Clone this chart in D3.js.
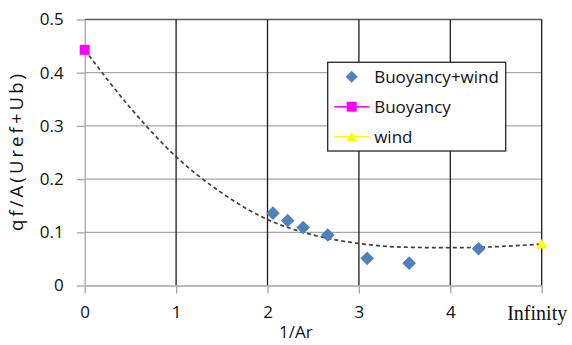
<!DOCTYPE html>
<html>
<head>
<meta charset="utf-8">
<script src="https://cdn.jsdelivr.net/npm/d3@7"></script>
<style>
  body { margin: 0; background: #fff; }
  #chart { width: 572px; height: 345px; }
  text { font-family: "Open Sans", sans-serif; fill: #111; }
</style>
</head>
<body>
<div id="chart"></div>
<script>
// Buoyancy+wind points
const bwX = [2.06, 2.22, 2.39, 2.66, 3.09, 3.55, 4.31];
const bwY = [0.136, 0.122, 0.109, 0.095, 0.051, 0.042, 0.069];
// Buoyancy only (1/Ar = 0)
const buoyX = [0];
const buoyY = [0.443];
// wind only (1/Ar = infinity, drawn at 5)
const windX = [5];
const windY = [0.078];
// dashed trend line
const trendX = [0, 0.5, 1, 1.5, 2, 2.5, 3, 3.5, 4, 4.5, 5];
const trendY = [0.443, 0.334, 0.242, 0.174, 0.124, 0.095, 0.079, 0.072, 0.071, 0.073, 0.078];

const xTicks = [0, 1, 2, 3, 4, 5];
const xTickLabels = ["0", "1", "2", "3", "4", "Infinity"];
const yTicks = [0, 0.1, 0.2, 0.3, 0.4, 0.5];
const legendNames = ["Buoyancy+wind", "Buoyancy", "wind"];

const margin = { top: 19.5, right: 30.3, bottom: 59.5, left: 84.7 };

function drawChart(chart_width, chart_height) {
  const width = chart_width - margin.left - margin.right;
  const height = chart_height - margin.top - margin.bottom;

  const svg = d3.select("#chart")
    .append("svg")
    .attr("width", chart_width)
    .attr("height", chart_height)
    .append("g")
    .attr("transform", `translate(${margin.left},${margin.top})`);

  const x = d3.scaleLinear().domain([0, 5]).range([0, width]);
  const y = d3.scaleLinear().domain([0, 0.5]).range([height, 0]);

  // horizontal grid (gray)
  svg.append("g")
    .selectAll("line")
    .data(yTicks.filter(d => d > 0 && d < 0.5))
    .enter()
    .append("line")
    .attr("x1", 0).attr("x2", width)
    .attr("y1", d => y(d)).attr("y2", d => y(d))
    .attr("stroke", "#a6a6a6")
    .attr("stroke-width", 1.3);

  // top border
  svg.append("line")
    .attr("x1", 0).attr("x2", width)
    .attr("y1", y(0.5)).attr("y2", y(0.5))
    .attr("stroke", "#595959")
    .attr("stroke-width", 1.3);

  // vertical grid (black)
  svg.append("g")
    .selectAll("line")
    .data(xTicks.filter(d => d > 0))
    .enter()
    .append("line")
    .attr("x1", d => x(d)).attr("x2", d => x(d))
    .attr("y1", 0).attr("y2", height)
    .attr("stroke", "#1a1a1a")
    .attr("stroke-width", 1.3);

  // axes
  const xAxis = svg.append("g")
    .attr("transform", `translate(0,${height})`)
    .call(d3.axisBottom(x)
      .tickValues(xTicks)
      .tickSize(8)
      .tickSizeOuter(0)
      .tickPadding(12)
      .tickFormat((d, i) => xTickLabels[i]));

  const yAxis = svg.append("g")
    .call(d3.axisLeft(y)
      .tickValues(yTicks)
      .tickSize(8)
      .tickSizeOuter(0)
      .tickPadding(13)
      .tickFormat(d => d === 0 ? "0" : d3.format(".1f")(d)));

  [xAxis, yAxis].forEach(ax => {
    ax.select(".domain").attr("stroke", "#a6a6a6").attr("stroke-width", 1.3);
    ax.selectAll(".tick line").attr("stroke", "#a6a6a6").attr("stroke-width", 1.3);
    ax.selectAll(".tick text")
      .style("font-family", "'Open Sans', sans-serif")
      .style("font-size", "17px")
      .style("fill", "#111");
  });

  // the "Infinity" label is in a serif face
  xAxis.selectAll(".tick text")
    .filter(d => d === 5)
    .style("font-family", "'Liberation Serif', serif")
    .style("font-size", "20px")
    .attr("x", -5);

  // axis titles
  svg.append("text")
    .attr("x", x(2.31))
    .attr("y", height + 52.5)
    .style("text-anchor", "middle")
    .style("font-size", "17px")
    .text("1/Ar");

  svg.append("text")
    .attr("transform", "rotate(-90)")
    .attr("x", -(y(0.5) + y(0)) / 2)
    .attr("y", -margin.left + 23)
    .attr("textLength", 157)
    .attr("lengthAdjust", "spacing")
    .style("text-anchor", "middle")
    .style("font-size", "18.5px")
    .text("qf/A(Uref+Ub)");

  // trend line
  const line = d3.line()
    .x(d => x(d[0]))
    .y(d => y(d[1]))
    .curve(d3.curveMonotoneX);

  svg.append("path")
    .datum(d3.zip(trendX, trendY))
    .attr("d", line)
    .attr("fill", "none")
    .attr("stroke", "#404040")
    .attr("stroke-width", 1.7)
    .attr("stroke-dasharray", "4,3");

  const diamond = r => `M0,${-r}L${r},0L0,${r}L${-r},0Z`;
  const square = s => `M${-s / 2},${-s / 2}h${s}v${s}h${-s}Z`;
  const triangle = s => `M0,${-s * 0.5}L${s * 0.55},${s * 0.45}L${-s * 0.55},${s * 0.45}Z`;

  svg.append("g")
    .selectAll("path")
    .data(d3.zip(bwX, bwY))
    .enter()
    .append("path")
    .attr("transform", d => `translate(${x(d[0])},${y(d[1])})`)
    .attr("d", diamond(6.8))
    .attr("fill", "#4f81bd");

  svg.append("g")
    .selectAll("path")
    .data(d3.zip(buoyX, buoyY))
    .enter()
    .append("path")
    .attr("transform", d => `translate(${x(d[0])},${y(d[1])})`)
    .attr("d", square(10))
    .attr("fill", "#ff00ff");

  svg.append("g")
    .selectAll("path")
    .data(d3.zip(windX, windY))
    .enter()
    .append("path")
    .attr("transform", d => `translate(${x(d[0])},${y(d[1])})`)
    .attr("d", triangle(10))
    .attr("fill", "#ffff00");

  // legend
  const legend = svg.append("g")
    .attr("transform", `translate(${327.7 - margin.left},${62.3 - margin.top})`);

  legend.append("rect")
    .attr("width", 178)
    .attr("height", 88.7)
    .attr("fill", "#fff")
    .attr("stroke", "#262626")
    .attr("stroke-width", 1.3);

  const rows = legend.selectAll(".legend-row")
    .data(legendNames)
    .enter()
    .append("g")
    .attr("class", "legend-row")
    .attr("transform", (d, i) => `translate(0,${14.4 + i * 30})`);

  rows.filter((d, i) => i > 0)
    .append("line")
    .attr("x1", 6.5).attr("x2", 41.5)
    .attr("stroke", (d, i) => i === 0 ? "#ff00ff" : "#ffff00")
    .attr("stroke-width", 1.6);

  rows.append("path")
    .attr("transform", "translate(24,0)")
    .attr("d", (d, i) => i === 0 ? diamond(6) : i === 1 ? square(10) : triangle(10))
    .attr("fill", (d, i) => ["#4f81bd", "#ff00ff", "#ffff00"][i]);

  rows.append("text")
    .attr("x", 46.5)
    .attr("dy", "0.35em")
    .style("font-size", "17px")
    .text(d => d);
}

drawChart(572, 345);
</script>
</body>
</html>
